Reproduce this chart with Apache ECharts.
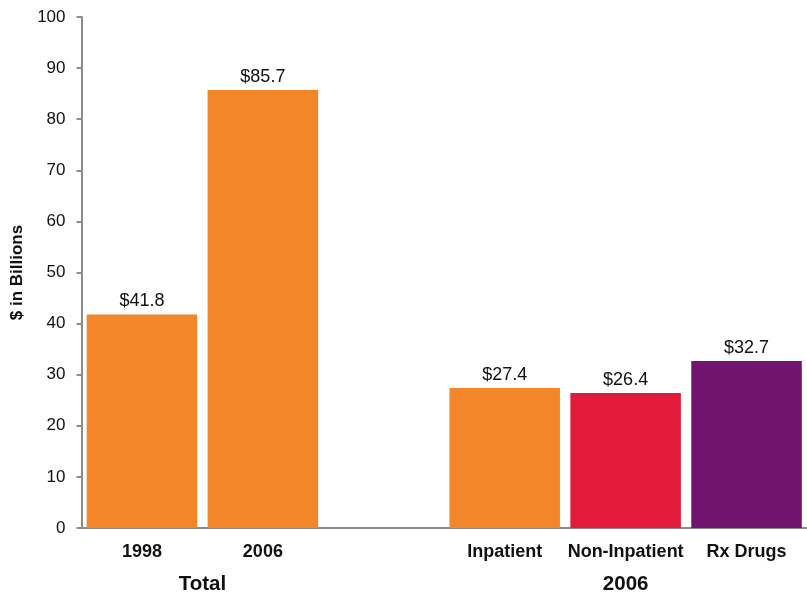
<!DOCTYPE html>
<html>
<head>
<meta charset="utf-8">
<script src="https://cdn.jsdelivr.net/npm/echarts@6/dist/echarts.min.js"></script>
<style>
  html, body { margin: 0; padding: 0; background: #fff; }
  #chart { width: 807px; height: 594px; }
</style>
</head>
<body>
<div id="chart"></div>
<script>
// Spending, $ in billions
const categories = ['1998', '2006', '', 'Inpatient', 'Non-Inpatient', 'Rx Drugs'];
const values = [41.8, 85.7, null, 27.4, 26.4, 32.7];
const barColors = ['#F4862A', '#F4862A', '#F4862A', '#F4862A', '#E31B3B', '#71146F'];
const yTicks = [0, 10, 20, 30, 40, 50, 60, 70, 80, 90, 100];
// Group captions under the axis: text, and the category span they sit under
const groups = [
  { text: 'Total', from: 0, to: 1 },
  { text: '2006', from: 3, to: 5 }
];

const chart = echarts.init(document.getElementById('chart'));
const font = 'Liberation Sans, Arial, Helvetica, sans-serif';

chart.setOption({
  animation: false,
  grid: { left: 81.5, top: 17, width: 731, height: 511, containLabel: false },
  xAxis: {
    type: 'category',
    data: categories,
    axisLine: { lineStyle: { color: '#8c8c8c', width: 2 } },
    axisTick: { show: false },
    axisLabel: { interval: 0, color: '#111', fontFamily: font, fontWeight: 'bold', fontSize: 18, margin: 15 }
  },
  yAxis: {
    type: 'value',
    min: yTicks[0],
    max: yTicks[yTicks.length - 1],
    interval: 10,
    name: '$ in Billions',
    nameLocation: 'middle',
    nameGap: 51,
    nameTextStyle: { color: '#111', fontFamily: font, fontWeight: 'bold', fontSize: 17 },
    axisLine: { show: true, lineStyle: { color: '#8c8c8c', width: 2 } },
    axisTick: { show: true, length: 5, lineStyle: { color: '#8c8c8c', width: 2 } },
    splitLine: { show: false },
    axisLabel: { color: '#111', fontFamily: font, fontSize: 17, margin: 16 }
  },
  series: [{
    type: 'bar',
    data: values.map((v, i) => ({ value: v, itemStyle: { color: barColors[i] } })),
    barCategoryGap: '8.6%',
    label: {
      show: true,
      position: 'top',
      distance: 4,
      color: '#111',
      fontFamily: font,
      fontSize: 18,
      formatter: p => '$' + p.value.toFixed(1)
    }
  }]
});

// Place the group captions centred under their category spans
const xs = groups.map(g => {
  const a = chart.convertToPixel({ xAxisIndex: 0 }, g.from);
  const b = chart.convertToPixel({ xAxisIndex: 0 }, g.to);
  return (a + b) / 2;
});
chart.setOption({
  graphic: groups.map((g, i) => ({
    type: 'text',
    x: xs[i],
    y: 584,
    style: {
      text: g.text,
      fill: '#111',
      font: 'bold 20.5px ' + font,
      textAlign: 'center',
      textVerticalAlign: 'middle'
    }
  }))
});
</script>
</body>
</html>
